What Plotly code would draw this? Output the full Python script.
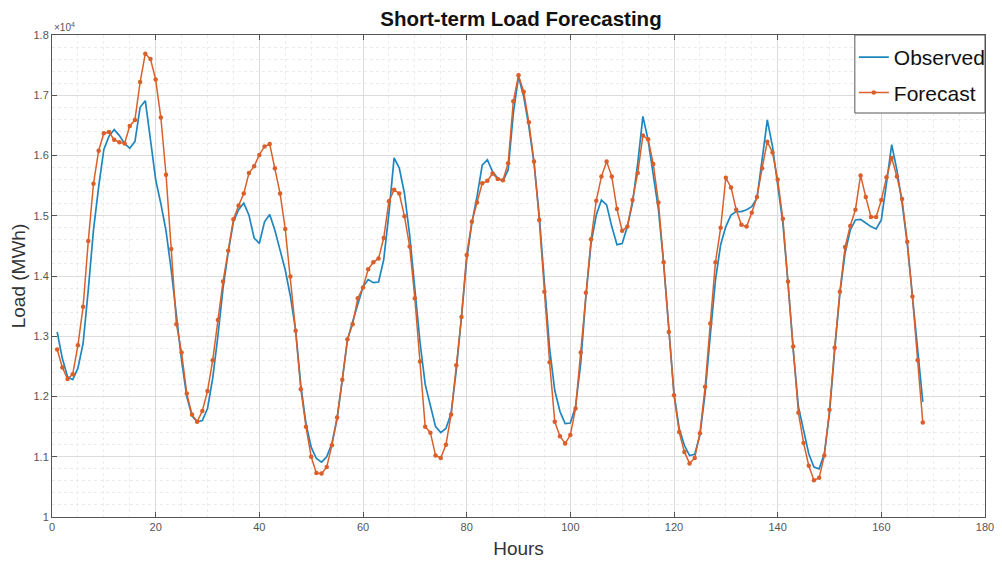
import plotly.graph_objects as go

hours = list(range(1, 169))

observed = [
    1.307, 1.263, 1.233, 1.228, 1.247, 1.288, 1.377, 1.476, 1.548, 1.610,
    1.632, 1.643, 1.633, 1.620, 1.612, 1.623, 1.680, 1.691, 1.626, 1.560,
    1.520, 1.475, 1.410, 1.330, 1.260, 1.200, 1.168, 1.158, 1.160, 1.180,
    1.230, 1.300, 1.380, 1.440, 1.490, 1.510, 1.521, 1.501, 1.463, 1.454,
    1.490, 1.502, 1.476, 1.443, 1.410, 1.366, 1.310, 1.219, 1.155, 1.116,
    1.097, 1.091, 1.100, 1.122, 1.163, 1.227, 1.294, 1.324, 1.355, 1.382,
    1.394, 1.389, 1.390, 1.427, 1.504, 1.596, 1.579, 1.537, 1.468, 1.382,
    1.290, 1.220, 1.183, 1.150, 1.140, 1.147, 1.172, 1.244, 1.332, 1.427,
    1.488, 1.532, 1.584, 1.593, 1.573, 1.562, 1.558, 1.576, 1.670, 1.731,
    1.698, 1.648, 1.587, 1.501, 1.388, 1.280, 1.210, 1.175, 1.155, 1.156,
    1.183, 1.255, 1.366, 1.454, 1.501, 1.526, 1.518, 1.482, 1.452, 1.454,
    1.482, 1.521, 1.587, 1.665, 1.626, 1.571, 1.510, 1.421, 1.310, 1.205,
    1.147, 1.119, 1.102, 1.104, 1.136, 1.205, 1.302, 1.393, 1.452, 1.482,
    1.501, 1.507, 1.507, 1.510, 1.515, 1.529, 1.593, 1.659, 1.615, 1.554,
    1.488, 1.388, 1.277, 1.183, 1.144, 1.105, 1.083, 1.080, 1.105, 1.172,
    1.277, 1.371, 1.438, 1.476, 1.493, 1.494, 1.488, 1.482, 1.478, 1.493,
    1.554, 1.618, 1.576, 1.521, 1.454, 1.366, 1.277, 1.191,
]

forecast = [
    1.278, 1.248, 1.229, 1.237, 1.285, 1.349, 1.458, 1.553, 1.608, 1.637,
    1.639, 1.626, 1.622, 1.620, 1.649, 1.659, 1.722, 1.769, 1.760, 1.726,
    1.663, 1.568, 1.445, 1.320, 1.273, 1.205, 1.170, 1.158, 1.176, 1.209,
    1.260, 1.327, 1.391, 1.442, 1.494, 1.517, 1.537, 1.571, 1.582, 1.601,
    1.615, 1.619, 1.579, 1.537, 1.478, 1.399, 1.309, 1.212, 1.150, 1.100,
    1.073, 1.072, 1.083, 1.119, 1.165, 1.228, 1.295, 1.320, 1.363, 1.381,
    1.411, 1.423, 1.429, 1.463, 1.524, 1.543, 1.537, 1.499, 1.449, 1.363,
    1.258, 1.150, 1.140, 1.102, 1.098, 1.120, 1.170, 1.252, 1.332, 1.435,
    1.490, 1.522, 1.554, 1.558, 1.570, 1.561, 1.559, 1.587, 1.690, 1.733,
    1.706, 1.655, 1.590, 1.493, 1.374, 1.257, 1.158, 1.134, 1.122, 1.136,
    1.180, 1.273, 1.372, 1.461, 1.525, 1.565, 1.590, 1.565, 1.511, 1.475,
    1.482, 1.526, 1.571, 1.633, 1.627, 1.586, 1.522, 1.423, 1.307, 1.202,
    1.141, 1.108, 1.089, 1.098, 1.139, 1.216, 1.321, 1.423, 1.480, 1.563,
    1.547, 1.510, 1.485, 1.482, 1.505, 1.531, 1.579, 1.623, 1.605, 1.560,
    1.495, 1.391, 1.283, 1.173, 1.123, 1.085, 1.061, 1.065, 1.102, 1.178,
    1.281, 1.374, 1.448, 1.483, 1.510, 1.567, 1.531, 1.498, 1.498, 1.526,
    1.564, 1.596, 1.565, 1.528, 1.457, 1.366, 1.260, 1.157,
]

# values read in units of 1e4 MWh
scale = 1e4
observed_mwh = [v * scale for v in observed]
forecast_mwh = [v * scale for v in forecast]

y_tick_vals = [10000, 11000, 12000, 13000, 14000, 15000, 16000, 17000, 18000]
y_tick_text = ["1", "1.1", "1.2", "1.3", "1.4", "1.5", "1.6", "1.7", "1.8"]
x_tick_vals = list(range(0, 181, 20))

BLUE = "#1f86bf"
ORANGE = "#d9602a"
FONT = "Liberation Sans, Arial, sans-serif"

# the page body adds an 8px offset; size the figure so the plot lands where the reference has it
OFF = 8
W, H = 1002 - OFF, 561 - OFF
ML, MR, MT, MB = 52 - OFF, 11, 35 - OFF, 44
PW, PH = W - ML - MR, H - MT - MB


def px_to_paper_x(px):
    return (px - OFF - ML) / PW


def px_to_paper_y(py):
    return 1 - (py - OFF - MT) / PH


fig = go.Figure()
fig.add_trace(go.Scatter(
    x=hours, y=observed_mwh, name="Observed", mode="lines",
    line=dict(color=BLUE, width=1.7), legendgroup="obs",
))
fig.add_trace(go.Scatter(
    x=hours, y=forecast_mwh, name="Forecast", mode="lines+markers",
    line=dict(color=ORANGE, width=1.5),
    marker=dict(color=ORANGE, size=4.5), legendgroup="fc",
))

axis_common = dict(
    showline=True, linecolor="#555555", linewidth=1, mirror="ticks",
    ticks="inside", ticklen=5, tickcolor="#555555",
    showgrid=True, gridcolor="#dcdcdc", gridwidth=1,
    zeroline=False, automargin=False,
    tickfont=dict(family=FONT, size=11, color="#555555"),
)

fig.update_xaxes(
    range=[0, 180], tickvals=x_tick_vals,
    minor=dict(dtick=5, showgrid=True, gridcolor="#ececec", griddash="dot", ticks=""),
    title=dict(text="Hours", font=dict(family=FONT, size=19, color="#333333"), standoff=9),
    **axis_common,
)
fig.update_yaxes(
    range=[10000, 18000], tickvals=y_tick_vals, ticktext=y_tick_text,
    minor=dict(dtick=200, showgrid=True, gridcolor="#ececec", griddash="dot", ticks=""),
    title=dict(text="Load (MWh)", font=dict(family=FONT, size=19, color="#333333"), standoff=8),
    **axis_common,
)

# legend box (page pixels)
box_left, box_right, box_top, box_bottom = 860, 991, 35, 113
fig.add_shape(
    type="rect", xref="paper", yref="paper",
    x0=px_to_paper_x(box_left), x1=px_to_paper_x(box_right),
    y0=px_to_paper_y(box_bottom), y1=px_to_paper_y(box_top),
    line=dict(color="#555555", width=1), fillcolor="white", layer="above",
)

fig.update_layout(
    width=W, height=H,
    margin=dict(l=ML, r=MR, t=MT, b=MB),
    paper_bgcolor="white", plot_bgcolor="white",
    title=dict(text="<b>Short-term Load Forecasting</b>", x=(521 - OFF) / W, xanchor="center",
               y=1 - (19 - OFF) / H, yanchor="middle", yref="container",
               font=dict(family=FONT, size=20.5, color="#111111")),
    legend=dict(
        x=px_to_paper_x(box_left - 1), y=px_to_paper_y(box_top + 2),
        xanchor="left", yanchor="top",
        bgcolor="rgba(0,0,0,0)", borderwidth=0,
        font=dict(family=FONT, size=21, color="#111111"),
        itemwidth=30, traceorder="grouped", tracegroupgap=5,
    ),
    showlegend=True,
)

fig.add_annotation(
    xref="paper", yref="paper", x=0.0, y=1.0, xanchor="left", yanchor="bottom",
    text="×10<sup>4</sup>", showarrow=False,
    font=dict(family=FONT, size=10, color="#555555"),
)

fig.write_html("out.html")
